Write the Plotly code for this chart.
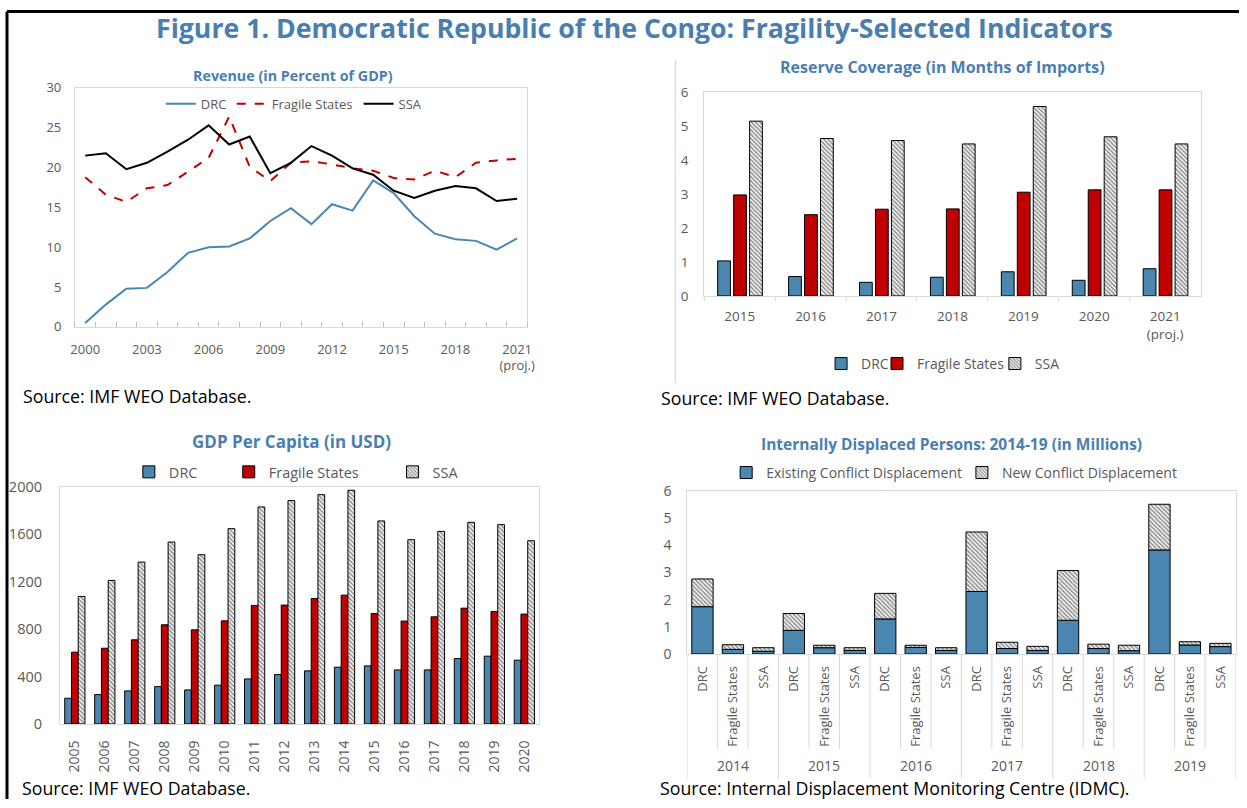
import plotly.graph_objects as go

# ---------------- DATA ----------------
rev_years = list(range(2000, 2022))
rev_drc = [0.5, 2.8, 4.8, 4.9, 6.9, 9.3, 10.0, 10.1, 11.1, 13.3, 14.9, 12.9, 15.4, 14.6, 18.4, 16.8, 13.9, 11.7, 11.0, 10.8, 9.7, 11.1]
rev_fragile = [18.8, 16.6, 15.7, 17.4, 17.8, 19.5, 21.2, 26.4, 20.1, 18.3, 20.6, 20.8, 20.4, 19.9, 19.6, 18.7, 18.5, 19.6, 18.8, 20.6, 20.9, 21.1]
rev_ssa = [21.5, 21.8, 19.8, 20.6, 22.0, 23.5, 25.3, 22.9, 23.9, 19.3, 20.6, 22.7, 21.5, 19.9, 19.1, 17.1, 16.2, 17.1, 17.7, 17.4, 15.8, 16.1]
rev_tick_years = [2000, 2003, 2006, 2009, 2012, 2015, 2018, 2021]
rev_tick_labels = ["2000", "2003", "2006", "2009", "2012", "2015", "2018", "2021<br>(proj.)"]

res_years = ["2015", "2016", "2017", "2018", "2019", "2020", "2021<br>(proj.)"]
res_drc = [1.03, 0.57, 0.40, 0.55, 0.71, 0.46, 0.80]
res_fragile = [2.97, 2.39, 2.55, 2.56, 3.05, 3.12, 3.12]
res_ssa = [5.14, 4.63, 4.57, 4.47, 5.57, 4.68, 4.47]

gdp_years = [str(y) for y in range(2005, 2021)]
gdp_drc = [217, 248, 279, 315, 287, 327, 380, 417, 448, 479, 490, 456, 456, 552, 572, 538]
gdp_fragile = [606, 639, 710, 837, 794, 870, 1000, 1003, 1059, 1087, 932, 868, 904, 977, 949, 927]
gdp_ssa = [1076, 1211, 1366, 1535, 1428, 1648, 1831, 1885, 1935, 1972, 1713, 1555, 1625, 1701, 1682, 1546]

idp_years = ["2014", "2015", "2016", "2017", "2018", "2019"]
idp_groups = ["DRC", "Fragile States", "SSA"]
idp_existing = [1.74, 0.17, 0.10, 0.87, 0.23, 0.13, 1.29, 0.24, 0.13, 2.30, 0.20, 0.13, 1.24, 0.20, 0.12, 3.83, 0.33, 0.27]
idp_new = [1.02, 0.17, 0.13, 0.62, 0.09, 0.10, 0.94, 0.08, 0.10, 2.19, 0.23, 0.15, 1.83, 0.16, 0.20, 1.68, 0.12, 0.12]

# ---------------- STYLE ----------------
W, H = 1247, 808
FONT = "Open Sans, Noto Sans, sans-serif"
BLUE = "#4a86b0"
RED = "#c00000"
TITLE = "#4a7eb0"
GREY = "#595959"
BOX = "#d9d9d9"

# calibration of the photographed page (observed = A + S * page pixel)
AX, SX = 4.0, 0.9907
AY, SY = 10.1, 0.9764


def px_x(p):
    return min(1.0, max(0.0, ((p - AX) / SX) / W))


def px_y(p):
    return min(1.0, max(0.0, 1 - ((p - AY) / SY) / H))


hatch = dict(shape="\\", fgcolor="#222222", bgcolor="white", size=3, solidity=0.55)
outline = dict(color="black", width=1)

fig = go.Figure()

# ---- Revenue (lines) ----
fig.add_trace(go.Scatter(x=rev_years, y=rev_drc, name="DRC", mode="lines", showlegend=True,
                         line=dict(color=BLUE, width=2), xaxis="x", yaxis="y", legend="legend"))
fig.add_trace(go.Scatter(x=rev_years, y=rev_fragile, name="Fragile States", mode="lines",
                         line=dict(color=RED, width=2, dash="dash"), xaxis="x", yaxis="y", legend="legend2"))
fig.add_trace(go.Scatter(x=rev_years, y=rev_ssa, name="SSA", mode="lines",
                         line=dict(color="black", width=2), xaxis="x", yaxis="y", legend="legend3"))

# ---- Reserve coverage (bars) ----
for vals, name, off, mk, lg in [
    (res_drc, "DRC", -0.31, dict(color=BLUE, line=outline), "legend4"),
    (res_fragile, "Fragile States", -0.085, dict(color=RED, line=outline), "legend5"),
    (res_ssa, "SSA", 0.14, dict(color="white", pattern=hatch, line=outline), "legend6"),
]:
    fig.add_trace(go.Bar(x=res_years, y=vals, name=name, width=0.18, offset=off, marker=mk,
                         xaxis="x2", yaxis="y2", legend=lg))

# ---- GDP per capita (bars) ----
for vals, name, off, mk, lg in [
    (gdp_drc, "DRC", -0.34, dict(color=BLUE, line=outline), "legend7"),
    (gdp_fragile, "Fragile States", -0.115, dict(color=RED, line=outline), "legend8"),
    (gdp_ssa, "SSA", 0.11, dict(color="white", pattern=hatch, line=outline), "legend9"),
]:
    fig.add_trace(go.Bar(x=gdp_years, y=vals, name=name, width=0.225, offset=off, marker=mk,
                         xaxis="x3", yaxis="y3", legend=lg))

# ---- IDP (stacked via shared offsetgroup + base) ----
idp_x = list(range(len(idp_existing)))
idp_ticktext = [g for _ in idp_years for g in idp_groups]
fig.add_trace(go.Bar(x=idp_x, y=idp_existing, name="Existing Conflict Displacement", width=0.7,
                     offsetgroup="idp", marker=dict(color=BLUE, line=outline),
                     xaxis="x4", yaxis="y4", legend="legend10"))
fig.add_trace(go.Bar(x=idp_x, y=idp_new, base=idp_existing, name="New Conflict Displacement", width=0.7,
                     offsetgroup="idp", marker=dict(color="white", pattern=hatch, line=outline),
                     xaxis="x4", yaxis="y4", legend="legend11"))


def tf(size):
    return dict(family=FONT, size=size, color=GREY)


common_y = dict(showgrid=False, zeroline=False, showline=True, mirror=True, linecolor=BOX,
                linewidth=1, ticks="", fixedrange=True)
common_x = dict(showgrid=False, zeroline=False, showline=True, mirror=True, linecolor=BOX,
                linewidth=1, fixedrange=True)


def leg(x, y, size):
    return dict(orientation="h", x=px_x(x), xanchor="left", y=px_y(y), yanchor="middle",
                font=tf(size), bgcolor="rgba(0,0,0,0)", itemwidth=30, visible=True)


fig.update_layout(
    width=W, height=H,
    showlegend=True,
    margin=dict(l=0, r=0, t=0, b=0),
    paper_bgcolor="white", plot_bgcolor="white",
    font=dict(family=FONT, color=GREY),
    barmode="group",
    # Revenue
    xaxis=dict(common_x, domain=[px_x(74), px_x(527)], range=[1999.5, 2021.5],
               tickvals=rev_tick_years, ticktext=rev_tick_labels, ticks="", tickfont=tf(13),
               ticklabelstandoff=10,
               minor=dict(ticks="inside", tick0=1999.5, dtick=1, ticklen=5, tickcolor="#bfbfbf", showgrid=False),
               anchor="y"),
    yaxis=dict(common_y, domain=[px_y(327), px_y(88)], range=[0, 30], dtick=5, anchor="x",
               tickfont=tf(13), ticklabelstandoff=10),
    # Reserve
    xaxis2=dict(common_x, domain=[px_x(704), px_x(1201)], type="category", anchor="y2",
                ticks="outside", tickson="boundaries", ticklen=4, tickcolor=BOX, tickfont=tf(13.5),
                ticklabelstandoff=8),
    yaxis2=dict(common_y, domain=[px_y(296), px_y(92)], range=[0, 6], dtick=1, anchor="x2",
                tickfont=tf(13.5), ticklabelstandoff=12),
    # GDP
    xaxis3=dict(common_x, domain=[px_x(59), px_x(539)], type="category", anchor="y3",
                tickangle=-90, ticks="", tickfont=tf(14), ticklabelstandoff=10),
    yaxis3=dict(common_y, domain=[px_y(724), px_y(487)], range=[0, 2000], dtick=400, anchor="x3",
                tickfont=tf(14.5), ticklabelstandoff=14),
    # IDP
    xaxis4=dict(common_x, domain=[px_x(687), px_x(1236)], range=[-0.5, len(idp_x) - 0.5],
                tickvals=idp_x, ticktext=idp_ticktext, tickangle=-90, ticks="", anchor="y4",
                tickfont=tf(13), ticklabelstandoff=6),
    yaxis4=dict(common_y, domain=[px_y(654), px_y(491)], range=[0, 6], dtick=1, anchor="x4",
                tickfont=tf(14), ticklabelstandoff=12),
    legend=leg(160, 104, 13),
    legend2=leg(231, 104, 13),
    legend3=leg(358, 104, 13),
    legend4=leg(821, 364, 14),
    legend5=leg(877, 364, 14),
    legend6=leg(995, 364, 14),
    legend7=leg(128, 472, 14.5),
    legend8=leg(228, 472, 14.5),
    legend9=leg(392, 472, 14.5),
    legend10=leg(726, 473, 14),
    legend11=leg(962, 473, 14),
)

annotations = []
annotations.append(dict(text="<b>Figure 1. Democratic Republic of the Congo: Fragility-Selected Indicators</b>",
                        x=px_x(634), y=px_y(28), xref="paper", yref="paper", showarrow=False,
                        xanchor="center", yanchor="middle", font=dict(family=FONT, size=26.7, color=TITLE)))
for txt, cx, cy, sz in [
    ("Revenue (in Percent of GDP)", 292, 76, 14.3),
    ("Reserve Coverage (in Months of Imports)", 943, 67, 16),
    ("GDP Per Capita (in USD)", 291, 442, 17),
    ("Internally Displaced Persons: 2014-19 (in Millions)", 952, 444, 15.5),
]:
    annotations.append(dict(text=f"<b>{txt}</b>", x=px_x(cx), y=px_y(cy), xref="paper", yref="paper",
                            showarrow=False, xanchor="center", yanchor="middle",
                            font=dict(family=FONT, size=sz, color=TITLE)))
for txt, lx, cy in [
    ("Source: IMF WEO Database.", 20, 396),
    ("Source: IMF WEO Database.", 659, 398),
]:
    annotations.append(dict(text=txt, x=px_x(lx), y=px_y(cy), xref="paper", yref="paper",
                            showarrow=False, xanchor="left", yanchor="middle",
                            font=dict(family=FONT, size=17.75, color="black")))
for txt, lx in [
    ("Source: IMF WEO Database.", 20),
    ("Source: Internal Displacement Monitoring Centre (IDMC).", 659),
]:
    annotations.append(dict(text=txt, x=px_x(lx), y=0, xref="paper", yref="paper",
                            showarrow=False, xanchor="left", yanchor="bottom", yshift=-2, borderpad=0,
                            font=dict(family=FONT, size=17.75, color="black")))
for i, yr in enumerate(idp_years):
    annotations.append(dict(text=yr, x=i * 3 + 1, y=px_y(766), xref="x4", yref="paper",
                            showarrow=False, xanchor="center", yanchor="middle", borderpad=0,
                            font=tf(14)))
fig.update_layout(annotations=annotations)

shapes = []
top_y = 1 - 1.5 / H
shapes.append(dict(type="line", xref="paper", yref="paper", x0=px_x(6), x1=1, y0=top_y, y1=top_y,
                   line=dict(color="black", width=3)))
shapes.append(dict(type="line", xref="paper", yref="paper", x0=px_x(6), x1=px_x(6), y0=top_y, y1=0,
                   line=dict(color="black", width=3)))
shapes.append(dict(type="line", xref="paper", yref="paper", x0=px_x(675), x1=px_x(675), y0=px_y(60), y1=px_y(383),
                   line=dict(color="#d0d0d0", width=1)))
n = len(idp_x)
for k in range(n + 1):
    bottom = 779 if k % 3 == 0 else 749
    shapes.append(dict(type="line", xref="x4", yref="paper", x0=k - 0.5, x1=k - 0.5,
                       y0=px_y(654), y1=px_y(bottom), line=dict(color=BOX, width=1)))
fig.update_layout(shapes=shapes)

post = (
    "var de=document.documentElement, b=document.body;"
    "de.style.margin='0';de.style.padding='0';de.style.overflow='hidden';"
    "b.style.margin='0';b.style.padding='0';b.style.overflow='hidden';"
    "var d=document.getElementById('{plot_id}');"
    "d.style.position='fixed';d.style.left='0px';d.style.top='0px';"
)

fig.write_html("out.html", config={"displayModeBar": False}, post_script=post)
